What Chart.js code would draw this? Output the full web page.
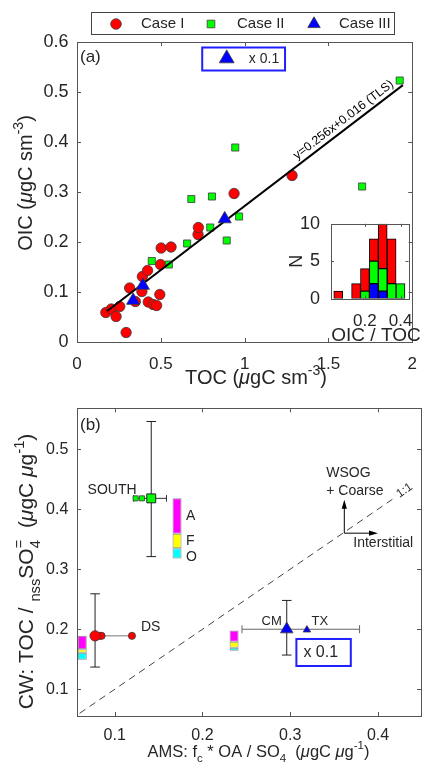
<!DOCTYPE html>
<html>
<head>
<meta charset="utf-8">
<title>OIC vs TOC</title>
<script src="https://cdn.jsdelivr.net/npm/chart.js@4.4.1/dist/chart.umd.min.js"></script>
<style>
  body { margin: 0; background: #fff; }
  #fig { position: relative; width: 429px; height: 772px; overflow: hidden; background: #fff; }
  #fig canvas { position: absolute; }
</style>
</head>
<body>
<div id="fig">
  <canvas id="chartA" width="429" height="392" style="left:0;top:0"></canvas>
  <canvas id="chartB" width="429" height="382" style="left:0;top:390px"></canvas>
  <canvas id="chartInset" width="145" height="150" style="left:282px;top:201.5px"></canvas>
</div>
<script>
const FONT = '"Liberation Sans", Arial, Helvetica, sans-serif';
const INK = "#262626";
const AXIS = "#555";
const RED = "#ff0000", GREEN = "#00ff00", BLUE = "#0000ff";
const EDGE = "#3a3a3a";

// ==================== PANEL (a) DATA ====================
const case1Toc = [0.172, 0.205, 0.233, 0.255, 0.293, 0.314, 0.348, 0.387, 0.390, 0.421, 0.425,
                  0.454, 0.475, 0.494, 0.498, 0.502, 0.561, 0.722, 0.724, 0.937, 1.283];
const case1Oic = [0.059, 0.066, 0.051, 0.071, 0.019, 0.108, 0.081, 0.101, 0.131, 0.143, 0.080,
                  0.075, 0.073, 0.095, 0.155, 0.188, 0.190, 0.215, 0.229, 0.297, 0.333];
const case2Toc = [0.446, 0.548, 0.657, 0.682, 0.795, 0.805, 0.893, 0.944, 0.967, 1.701, 1.925];
const case2Oic = [0.162, 0.155, 0.197, 0.286, 0.229, 0.291, 0.203, 0.389, 0.251, 0.311, 0.523];
const case3Toc = [0.335, 0.393, 0.881];
const case3Oic = [0.083, 0.113, 0.246];
const fitSlope = 0.256;
const fitIntercept = 0.016;
const fitTocEnds = [0.18, 1.944];
const tocTicks = [0, 0.5, 1, 1.5, 2];
const oicTicks = [0, 0.1, 0.2, 0.3, 0.4, 0.5, 0.6];

// ---- inset: OIC/TOC histogram ----
const ratioBins = [0.05, 0.15, 0.2, 0.25, 0.3, 0.35, 0.4];
const binCase1 = [1, 2, 3, 3, 6, 6, 0];
const binCase2 = [0, 0, 1, 3, 3, 2, 2];
const binCase3 = [0, 0, 0, 2, 1, 0, 0];
const ratioTicks = [0.2, 0.4];
const countTicks = [0, 5, 10];

// ==================== PANEL (b) DATA ====================
const southFlightAms = [0.1238, 0.131];
const southFlightCw = [0.418, 0.418];
const dsFlightAms = [0.083, 0.085, 0.1196];
const dsFlightCw = [0.189, 0.189, 0.189];
const meanSites = ["SOUTH", "DS", "CM"];
const meanAms = [0.1416, 0.0776, 0.296];
const meanCw = [0.418, 0.189, 0.200];
const cwLow = [0.321, 0.137, 0.157];
const cwHigh = [0.546, 0.259, 0.248];
const amsLow = [0.1215, 0.0776, 0.245];
const amsHigh = [0.159, 0.1196, 0.379];
const txAms = [0.319];
const txCw = [0.199];
// A / F / O breakdown columns
const colAms = [0.063, 0.171, 0.236];
const colBase = [0.149, 0.318, 0.164];
const colO = [0.012, 0.017, 0.005];
const colF = [0.0057, 0.024, 0.010];
const colA = [0.0223, 0.059, 0.019];
const oneToOne = [0.06, 0.42];
const amsTicks = [0.1, 0.2, 0.3, 0.4];
const cwTicks = [0.1, 0.2, 0.3, 0.4, 0.5];

// ==================== HELPERS ====================
const pts = (xs, ys) => xs.map((x, i) => ({ x, y: ys[i] }));

function marker(ctx, style, x, y, r, fill) {
  ctx.beginPath();
  if (style === "circle") ctx.arc(x, y, r, 0, Math.PI * 2);
  else if (style === "rect") {
    const h = r * Math.SQRT1_2;
    ctx.rect(x - h, y - h, 2 * h, 2 * h);
  } else {
    ctx.moveTo(x, y - r);
    ctx.lineTo(x + r * 0.866, y + r / 2);
    ctx.lineTo(x - r * 0.866, y + r / 2);
    ctx.closePath();
  }
  ctx.fillStyle = fill;
  ctx.fill();
  ctx.strokeStyle = EDGE;
  ctx.lineWidth = 0.8;
  ctx.stroke();
}

// text with sub/superscripts, centred on (x, y) baseline
function richText(ctx, x, y, parts, size, angle) {
  const runs = [];
  let w = 0;
  parts.forEach((p) => {
    const s = p.sub || p.sup ? size * 0.7 : size;
    const font = `${p.italic ? "italic " : ""}${s}px ${FONT}`;
    ctx.font = font;
    const pw = ctx.measureText(p.t).width;
    runs.push({ t: p.t, font, x: w, dy: p.sub ? size * 0.32 : p.sup ? -size * 0.45 : 0 });
    if (!p.hold) w += pw;
  });
  ctx.save();
  ctx.translate(x, y);
  ctx.rotate(angle || 0);
  ctx.fillStyle = INK;
  ctx.textAlign = "left";
  ctx.textBaseline = "alphabetic";
  runs.forEach((r) => {
    ctx.font = r.font;
    ctx.fillText(r.t, r.x - w / 2, r.dy);
  });
  ctx.restore();
}

function label(ctx, text, x, y, size, align, baseline) {
  ctx.font = `${size}px ${FONT}`;
  ctx.fillStyle = INK;
  ctx.textAlign = align || "left";
  ctx.textBaseline = baseline || "middle";
  ctx.fillText(text, x, y);
}

// box with inward ticks on all four sides
function drawFrame(ctx, a, xs, ys, len) {
  ctx.save();
  ctx.strokeStyle = AXIS;
  ctx.lineWidth = 1;
  ctx.beginPath();
  xs.ticks.forEach((t) => {
    const px = Math.round(xs.getPixelForValue(t.value)) + 0.5;
    ctx.moveTo(px, a.bottom); ctx.lineTo(px, a.bottom - len);
    ctx.moveTo(px, a.top); ctx.lineTo(px, a.top + len);
  });
  ys.ticks.forEach((t) => {
    const py = Math.round(ys.getPixelForValue(t.value)) + 0.5;
    ctx.moveTo(a.left, py); ctx.lineTo(a.left + len, py);
    ctx.moveTo(a.right, py); ctx.lineTo(a.right - len, py);
  });
  ctx.stroke();
  ctx.strokeRect(Math.round(a.left) + 0.5, Math.round(a.top) + 0.5,
                 Math.round(a.right - a.left), Math.round(a.bottom - a.top));
  ctx.restore();
}

function axisOpts(min, max, ticks, size, pad, fit, stacked) {
  return {
    type: "linear", min, max, stacked: !!stacked, offset: false, beginAtZero: false,
    grid: { display: false, drawTicks: false, offset: false },
    border: { display: false },
    afterBuildTicks: (s) => { s.ticks = ticks.map((v) => ({ value: v })); },
    afterFit: fit,
    ticks: { padding: pad, autoSkip: false, maxRotation: 0, color: INK, font: { family: FONT, size },
             callback: (v) => String(v) },
  };
}

const baseOpts = {
  responsive: false, animation: false, events: [], devicePixelRatio: 1,
};

// ==================== PANEL (a) ====================
const panelAExtras = {
  id: "panelAExtras",
  afterDraw(chart) {
    const { ctx, chartArea: a, scales: { x, y } } = chart;
    drawFrame(ctx, a, x, y, 4);

    // legend across the top
    ctx.save();
    ctx.fillStyle = "#fff";
    ctx.fillRect(92, 13, 303, 22);
    ctx.strokeStyle = "#444";
    ctx.lineWidth = 1;
    ctx.strokeRect(91.5, 12.5, 303, 22);
    const entries = [
      ["Case I", "circle", 5.3, RED, 116, 141],
      ["Case II", "rect", 5.4, GREEN, 211, 237],
      ["Case III", "triangle", 7.2, BLUE, 314, 339],
    ];
    entries.forEach(([name, style, r, col, mx, tx]) => {
      marker(ctx, style, mx, 24, r, col);
      label(ctx, name, tx, 24, 15);
    });

    label(ctx, "(a)", 80, 57, 17);

    // scale note for Case III
    const bx0 = x.getPixelForValue(0.747), bx1 = x.getPixelForValue(1.241);
    const by0 = y.getPixelForValue(0.589), by1 = y.getPixelForValue(0.543);
    ctx.strokeStyle = "#1f1fff";
    ctx.lineWidth = 2;
    ctx.strokeRect(bx0, by0, bx1 - bx0, by1 - by0);
    marker(ctx, "triangle", x.getPixelForValue(0.893), y.getPixelForValue(0.567), 8.6, BLUE);
    label(ctx, "x 0.1", x.getPixelForValue(1.025), (by0 + by1) / 2, 14);

    // fit equation along the line
    const x1 = x.getPixelForValue(fitTocEnds[0]), y1 = y.getPixelForValue(fitSlope * fitTocEnds[0] + fitIntercept);
    const x2 = x.getPixelForValue(fitTocEnds[1]), y2 = y.getPixelForValue(fitSlope * fitTocEnds[1] + fitIntercept);
    const ang = Math.atan2(y2 - y1, x2 - x1);
    const tx = x.getPixelForValue(1.33), ty = y.getPixelForValue(fitSlope * 1.33 + fitIntercept);
    ctx.save();
    ctx.translate(tx, ty);
    ctx.rotate(ang);
    ctx.font = `12.3px ${FONT}`;
    ctx.fillStyle = "#000";
    ctx.textAlign = "left";
    ctx.textBaseline = "alphabetic";
    ctx.fillText(`y=${fitSlope}x+${fitIntercept} (TLS)`, 0, -5);
    ctx.restore();
    ctx.restore();

    // axis titles
    const unit = [{ t: " (" }, { t: "\u03bc", italic: true }, { t: "gC sm" }, { t: "-3", sup: true }, { t: ")" }];
    richText(ctx, 31.7, 183, [{ t: "OIC" }].concat(unit), 20, -Math.PI / 2);
    richText(ctx, 256, 384.3, [{ t: "TOC" }].concat(unit), 20, 0);
  },
};

new Chart(document.getElementById("chartA"), {
  type: "scatter",
  data: {
    datasets: [
      { label: "Case III", data: pts(case3Toc, case3Oic), pointStyle: "triangle", pointRadius: 7.6,
        backgroundColor: BLUE, borderColor: EDGE, borderWidth: 0.8, order: 0 },
      { label: "TLS fit", type: "line", order: 1, borderColor: "#000", borderWidth: 2, pointRadius: 0,
        data: fitTocEnds.map((t) => ({ x: t, y: fitSlope * t + fitIntercept })) },
      { label: "Case II", data: pts(case2Toc, case2Oic), pointStyle: "rect", pointRadius: 5,
        backgroundColor: GREEN, borderColor: EDGE, borderWidth: 0.8, order: 2 },
      { label: "Case I", data: pts(case1Toc, case1Oic), pointStyle: "circle", pointRadius: 5.2,
        backgroundColor: RED, borderColor: EDGE, borderWidth: 0.8, order: 3 },
    ],
  },
  options: {
    ...baseOpts,
    layout: { padding: { top: 42, right: 5, left: 0, bottom: 0 } },
    plugins: { legend: { display: false }, tooltip: { enabled: false } },
    scales: {
      x: axisOpts(0, 2, tocTicks, 17, 12, (s) => { s.height = 50; }),
      y: axisOpts(0, 0.6, oicTicks, 18, 8.5, (s) => { s.width = 77; }),
    },
  },
  plugins: [panelAExtras],
});

// ==================== INSET HISTOGRAM ====================
const insetExtras = {
  id: "insetExtras",
  beforeDatasetsDraw(chart) {
    const { ctx, chartArea: a } = chart;
    ctx.fillStyle = "#fff";
    ctx.fillRect(a.left, a.top, a.right - a.left, a.bottom - a.top);
  },
  afterDraw(chart) {
    const { ctx, chartArea: a, scales: { x, y } } = chart;
    drawFrame(ctx, a, x, y, 3);
    ctx.save();
    ctx.translate(a.left - 34, (a.top + a.bottom) / 2);
    ctx.rotate(-Math.PI / 2);
    label(ctx, "N", 0, 0, 18, "center", "middle");
    ctx.restore();
    label(ctx, "OIC / TOC", a.left + 45, a.bottom + 37.6, 19, "center", "middle");
  },
};

const binData = (counts) => ratioBins.map((r, i) => ({ x: r, y: counts[i] }));
const barStyle = { borderColor: "#000", borderWidth: 1, borderSkipped: false,
                   barPercentage: 1, categoryPercentage: 1 };

new Chart(document.getElementById("chartInset"), {
  type: "bar",
  data: {
    datasets: [
      { label: "Case III", data: binData(binCase3), backgroundColor: BLUE, ...barStyle },
      { label: "Case II", data: binData(binCase2), backgroundColor: GREEN, ...barStyle },
      { label: "Case I", data: binData(binCase1), backgroundColor: RED, ...barStyle },
    ],
  },
  options: {
    ...baseOpts,
    layout: { padding: { top: 0, right: 16, left: 0, bottom: 0 } },
    plugins: { legend: { display: false }, tooltip: { enabled: false } },
    scales: {
      x: axisOpts(0.0093, 0.445, ratioTicks, 17, 13, (s) => { s.height = 53.4; }, true),
      y: axisOpts(0, 10, countTicks, 18, 11, (s) => { s.width = 49; }, true),
    },
  },
  plugins: [insetExtras],
});

// ==================== PANEL (b) ====================
const hBarColor = ["#333", "#777", "#666"];
const hCap = [3.3, 0, 4];

const panelBExtras = {
  id: "panelBExtras",
  beforeDatasetsDraw(chart) {
    const { ctx, scales: { x, y } } = chart;
    ctx.save();
    ctx.lineWidth = 1;
    meanSites.forEach((site, i) => {
      // CW spread
      const px = x.getPixelForValue(meanAms[i]);
      const lo = y.getPixelForValue(cwLow[i]), hi = y.getPixelForValue(cwHigh[i]);
      ctx.strokeStyle = "#222";
      ctx.beginPath();
      ctx.moveTo(px, lo); ctx.lineTo(px, hi);
      ctx.moveTo(px - 4.8, lo); ctx.lineTo(px + 4.8, lo);
      ctx.moveTo(px - 4.8, hi); ctx.lineTo(px + 4.8, hi);
      ctx.stroke();
      // AMS spread
      const py = y.getPixelForValue(meanCw[i]);
      const l = x.getPixelForValue(amsLow[i]), r = x.getPixelForValue(amsHigh[i]);
      ctx.strokeStyle = hBarColor[i];
      ctx.beginPath();
      ctx.moveTo(l, py); ctx.lineTo(r, py);
      if (hCap[i]) {
        ctx.moveTo(l, py - hCap[i]); ctx.lineTo(l, py + hCap[i]);
        ctx.moveTo(r, py - hCap[i]); ctx.lineTo(r, py + hCap[i]);
      }
      ctx.stroke();
    });
    ctx.restore();
  },
  afterDraw(chart) {
    const { ctx, chartArea: a, scales: { x, y } } = chart;
    drawFrame(ctx, a, x, y, 4);

    label(ctx, "(b)", 80, 35, 17);

    // site names
    const px = (v) => x.getPixelForValue(v), py = (v) => y.getPixelForValue(v);
    label(ctx, "SOUTH", px(southFlightAms[0]) + 1, py(meanCw[0]) - 8, 14, "right");
    label(ctx, "DS", px(dsFlightAms[2]) + 9, py(meanCw[1]) - 9, 14);
    label(ctx, "CM", px(meanAms[2]) - 5, py(meanCw[2]) - 8, 13, "right");
    label(ctx, "TX", px(txAms[0]) + 4.6, py(txCw[0]) - 8, 13);

    // A / F / O labels beside the SOUTH column
    const cx = px(colAms[1]) + 9;
    const b0 = colBase[1], b1 = b0 + colO[1], b2 = b1 + colF[1], b3 = b2 + colA[1];
    label(ctx, "A", cx, py((b2 + b3) / 2), 14);
    label(ctx, "F", cx, py((b1 + b2) / 2), 14);
    label(ctx, "O", cx, py((b0 + b1) / 2) + 4, 14);

    // scale note for the triangles
    const bx0 = px(0.307), bx1 = px(0.369), by0 = py(0.1838), by1 = py(0.1388);
    ctx.save();
    ctx.strokeStyle = "#1f1fff";
    ctx.lineWidth = 2;
    ctx.strokeRect(bx0, by0, bx1 - bx0, by1 - by0);
    ctx.restore();
    label(ctx, "x 0.1", bx0 + 7, (by0 + by1) / 2, 16);

    // direction arrows
    const ox = px(0.3616), oy = py(0.36), ux = py(0.4155), rx = px(0.40);
    ctx.save();
    ctx.strokeStyle = "#000";
    ctx.fillStyle = "#000";
    ctx.lineWidth = 1;
    ctx.beginPath();
    ctx.moveTo(ox, oy); ctx.lineTo(ox, ux + 6);
    ctx.moveTo(ox, oy); ctx.lineTo(rx - 6, oy);
    ctx.stroke();
    ctx.beginPath();
    ctx.moveTo(ox, ux); ctx.lineTo(ox - 2.6, ux + 9); ctx.lineTo(ox + 2.6, ux + 9); ctx.closePath();
    ctx.moveTo(rx, oy); ctx.lineTo(rx - 9, oy - 2.6); ctx.lineTo(rx - 9, oy + 2.6); ctx.closePath();
    ctx.fill();
    ctx.restore();
    label(ctx, "WSOG", ox - 18, oy - 56.6, 14, "left", "alphabetic");
    label(ctx, "+ Coarse", ox - 18, oy - 38.3, 14, "left", "alphabetic");
    label(ctx, "Interstitial", ox + 9, oy + 13.4, 14, "left", "alphabetic");

    // 1:1 tag at the end of the dashed line
    const lx0 = px(oneToOne[0]), ly0 = py(oneToOne[0]);
    const lx1 = px(oneToOne[1]), ly1 = py(oneToOne[1]);
    ctx.save();
    ctx.translate(lx1 + 2, ly1 - 2);
    ctx.rotate(Math.atan2(ly1 - ly0, lx1 - lx0));
    label(ctx, "1:1", 0, 0, 12, "left", "middle");
    ctx.restore();

    // axis titles
    richText(ctx, 33.3, 181.5, [
      { t: "CW: TOC / " }, { t: "nss", sub: true }, { t: "SO" },
      { t: "4", sub: true, hold: true }, { t: "=", sup: true },
      { t: "  (" }, { t: "\u03bc", italic: true }, { t: "gC " }, { t: "\u03bc", italic: true },
      { t: "g" }, { t: "-1", sup: true }, { t: ")" },
    ], 21, -Math.PI / 2);
    richText(ctx, 258.5, 366.7, [
      { t: "AMS: f" }, { t: "c", sub: true }, { t: " * OA / SO" }, { t: "4", sub: true },
      { t: "  (" }, { t: "\u03bc", italic: true }, { t: "gC " }, { t: "\u03bc", italic: true },
      { t: "g" }, { t: "-1", sup: true }, { t: ")" },
    ], 16.5, 0);
  },
};

// floating segments for each column
function segment(lowArr, heightArr) {
  return colAms.map((a, i) => ({ x: a, y: [lowArr[i], lowArr[i] + heightArr[i]] }));
}
const colTopO = colBase.map((b, i) => b + colO[i]);
const colTopF = colTopO.map((b, i) => b + colF[i]);
const colStyle = { type: "bar", grouped: false, maxBarThickness: 9, borderColor: "#8a8a8a",
                   borderWidth: 1, borderSkipped: false, order: 5 };

new Chart(document.getElementById("chartB"), {
  type: "scatter",
  data: {
    datasets: [
      { label: "TX", data: pts(txAms, txCw), pointStyle: "triangle", pointRadius: 4.3,
        backgroundColor: BLUE, borderColor: EDGE, borderWidth: 0.8, order: 0 },
      { label: "CM", data: [{ x: meanAms[2], y: meanCw[2] }], pointStyle: "triangle", pointRadius: 7.2,
        backgroundColor: BLUE, borderColor: EDGE, borderWidth: 0.8, order: 0 },
      { label: "SOUTH", data: [{ x: meanAms[0], y: meanCw[0] }], pointStyle: "rect", pointRadius: 6.3,
        backgroundColor: GREEN, borderColor: "#222", borderWidth: 1, order: 1 },
      { label: "SOUTH flights", data: pts(southFlightAms, southFlightCw), pointStyle: "rect", pointRadius: 3.6,
        backgroundColor: GREEN, borderColor: EDGE, borderWidth: 0.8, order: 2 },
      { label: "DS", data: [{ x: meanAms[1], y: meanCw[1] }], pointStyle: "circle", pointRadius: 5.2,
        backgroundColor: RED, borderColor: EDGE, borderWidth: 0.8, order: 1 },
      { label: "DS flights", data: pts(dsFlightAms, dsFlightCw), pointStyle: "circle", pointRadius: 3.6,
        backgroundColor: RED, borderColor: EDGE, borderWidth: 0.8, order: 2 },
      { label: "1:1", type: "line", data: oneToOne.map((v) => ({ x: v, y: v })), borderColor: "#444",
        borderWidth: 1, borderDash: [7, 5], pointRadius: 0, order: 6 },
      { label: "O", data: segment(colBase, colO), backgroundColor: "#00ffff", ...colStyle },
      { label: "F", data: segment(colTopO, colF), backgroundColor: "#ffff00", ...colStyle },
      { label: "A", data: segment(colTopF, colA), backgroundColor: "#ff00ff", ...colStyle },
    ],
  },
  options: {
    ...baseOpts,
    layout: { padding: { top: 18.3, right: 6, left: 0, bottom: 0 } },
    plugins: { legend: { display: false }, tooltip: { enabled: false } },
    scales: {
      x: axisOpts(0.057, 0.449, amsTicks, 16, 10.2, (s) => { s.height = 56; }),
      y: axisOpts(0.0555, 0.568, cwTicks, 16, 8.7, (s) => { s.width = 77; }),
    },
  },
  plugins: [panelBExtras],
});
</script>
</body>
</html>
